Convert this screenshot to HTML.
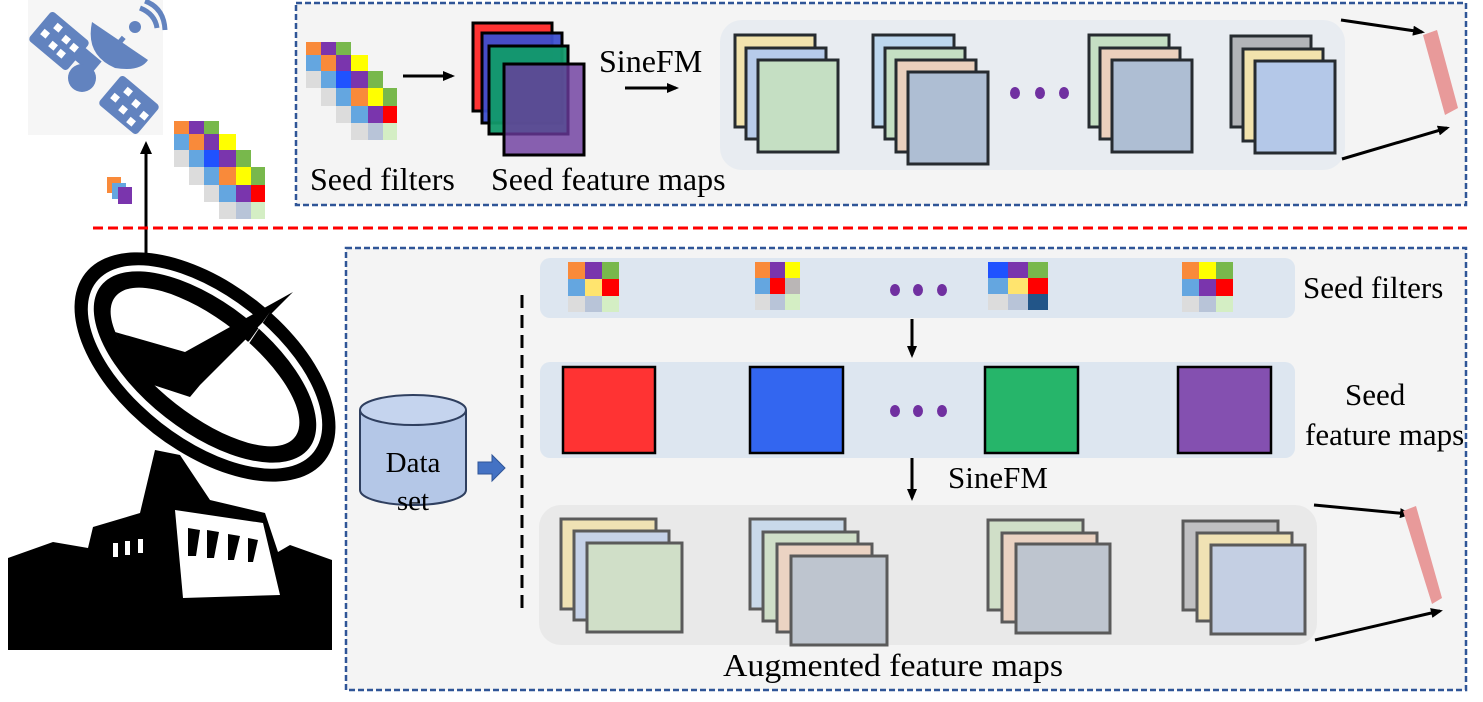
<!DOCTYPE html>
<html><head><meta charset="utf-8"><style>
html,body{margin:0;padding:0;background:#fff;}
svg{display:block;}
text{font-family:"Liberation Serif",serif;fill:#000;}
</style></head><body>
<svg width="1483" height="702" viewBox="0 0 1483 702" xmlns="http://www.w3.org/2000/svg">
<defs>
<marker id="ah" markerWidth="12" markerHeight="10" refX="9" refY="5" orient="auto" markerUnits="userSpaceOnUse">
<path d="M0,0 L12,5 L0,10 z" fill="#000"/></marker>
<g id="mosaic">
<rect x="306" y="42" width="15" height="13" fill="#f98a3a"/><rect x="321" y="42" width="15" height="13" fill="#7a35ad"/><rect x="336" y="42" width="15" height="13" fill="#78b84c"/>
<rect x="306" y="55" width="15" height="16" fill="#64a6e0"/><rect x="321" y="55" width="15" height="16" fill="#f98a3a"/><rect x="336" y="55" width="15" height="16" fill="#7a35ad"/><rect x="351" y="55" width="17" height="16" fill="#ffff00"/>
<rect x="306" y="71" width="15" height="17" fill="#dcdcdc"/><rect x="321" y="71" width="15" height="17" fill="#64a6e0"/><rect x="336" y="71" width="15" height="17" fill="#1f52ff"/><rect x="351" y="71" width="17" height="17" fill="#7a35ad"/><rect x="368" y="71" width="15" height="17" fill="#78b84c"/>
<rect x="321" y="88" width="15" height="18" fill="#dcdcdc"/><rect x="336" y="88" width="15" height="18" fill="#64a6e0"/><rect x="351" y="88" width="17" height="18" fill="#f98a3a"/><rect x="368" y="88" width="15" height="18" fill="#ffff00"/><rect x="383" y="88" width="14" height="18" fill="#78b84c"/>
<rect x="336" y="106" width="15" height="17" fill="#dcdcdc"/><rect x="351" y="106" width="17" height="17" fill="#64a6e0"/><rect x="368" y="106" width="15" height="17" fill="#7a35ad"/><rect x="383" y="106" width="14" height="17" fill="#ff0000"/>
<rect x="351" y="123" width="17" height="17" fill="#dcdcdc"/><rect x="368" y="123" width="15" height="17" fill="#b8c4d8"/><rect x="383" y="123" width="14" height="17" fill="#d4eec4"/>
</g>
</defs>

<!-- satellite -->
<rect x="28" y="0" width="135" height="135" fill="#f6f6f6"/>
<g fill="#6283bf">
<rect x="34" y="22" width="50" height="38" rx="4" transform="rotate(40 59 41)"/>
<rect x="104" y="86" width="50" height="38" rx="4" transform="rotate(40 129 105)"/>
<rect x="70" y="50" width="30" height="16" transform="rotate(40 85 58)"/>
<circle cx="82" cy="78" r="14"/>
<path d="M92,22 Q85,55 115,68 Q140,72 148,60 Z"/>
<circle cx="135" cy="27" r="6"/>
<rect x="113" y="34" width="5" height="26" transform="rotate(40 115 47)"/>
</g>
<g fill="none" stroke="#6283bf" stroke-width="5">
<path d="M140,8 Q155,14 157,28"/><path d="M145,1 Q164,8 165,30"/>
</g>
<g fill="#fff">
<rect x="42" y="30" width="7" height="7" transform="rotate(40 45 33)"/><rect x="55" y="24" width="7" height="7" transform="rotate(40 58 27)"/>
<rect x="50" y="42" width="7" height="7" transform="rotate(40 53 45)"/><rect x="63" y="36" width="7" height="7" transform="rotate(40 66 39)"/>
<rect x="58" y="50" width="7" height="7" transform="rotate(40 61 53)"/><rect x="71" y="44" width="7" height="7" transform="rotate(40 74 47)"/>
<rect x="112" y="94" width="7" height="7" transform="rotate(40 115 97)"/><rect x="125" y="88" width="7" height="7" transform="rotate(40 128 91)"/>
<rect x="120" y="106" width="7" height="7" transform="rotate(40 123 109)"/><rect x="133" y="100" width="7" height="7" transform="rotate(40 136 103)"/>
<rect x="128" y="118" width="7" height="7" transform="rotate(40 131 121)"/><rect x="141" y="112" width="7" height="7" transform="rotate(40 144 115)"/>
</g>
<use href="#mosaic" transform="translate(-132,79)"/>
<rect x="107" y="177" width="14" height="16" fill="#f98a3a"/>
<rect x="112" y="183" width="14" height="16" fill="#64a6e0"/>
<rect x="118" y="187" width="14" height="17" fill="#7a35ad"/>
<line x1="146" y1="265" x2="146" y2="152" stroke="#000" stroke-width="3"/>
<path d="M140,154 L146,141 L152,154 z" fill="#000"/>

<!-- red dashed separator -->
<line x1="93" y1="228" x2="1467" y2="228" stroke="#ff0000" stroke-width="3" stroke-dasharray="10,5"/>

<!-- antenna -->
<polygon points="8,558 53,542 88,548 93,527 140,513 155,450 180,455 210,500 265,513 278,552 290,545 332,560 332,650 8,650" fill="#000"/>
<polygon points="175,510 263,523 280,595 183,598" fill="#fff"/>
<g fill="#000">
<polygon points="188,528 200,530 196,556 188,556"/><polygon points="207,530 219,532 214,558 207,558"/>
<polygon points="228,534 240,536 234,560 228,560"/><polygon points="248,538 258,540 253,562 248,562"/>
</g>
<g fill="#fff"><rect x="113" y="543" width="5" height="14"/><rect x="125" y="541" width="5" height="14"/><rect x="138" y="539" width="5" height="14"/></g>
<g transform="rotate(38 205 367)">
<ellipse cx="205" cy="367" rx="152" ry="84" fill="#000"/>
<ellipse cx="205" cy="367" rx="138" ry="71" fill="#fff"/>
<ellipse cx="205" cy="367" rx="132" ry="64" fill="#000"/>
<ellipse cx="205" cy="367" rx="114" ry="47" fill="#fff"/>
</g>
<polygon points="115,332 185,352 293,292 200,385 190,397 138,380" fill="#000"/>
<polygon points="270,312 228,375 205,385 250,340" fill="#fff"/>

<!-- top frame -->
<rect x="296" y="3" width="1170" height="202" fill="#f4f4f4" stroke="#2f5597" stroke-width="2.5" stroke-dasharray="6,3"/>
<use href="#mosaic"/>
<line x1="403" y1="76" x2="452" y2="76" stroke="#000" stroke-width="3" marker-end="url(#ah)"/>
<g stroke="#000" stroke-width="3">
<rect x="473" y="23" width="79" height="88" fill="#ff3333"/>
<rect x="482" y="33" width="80" height="90" fill="#3d4fd0" fill-opacity="0.95"/>
<rect x="489" y="46" width="79" height="88" fill="#129a6a" fill-opacity="0.95"/>
<rect x="504" y="64" width="80" height="91" fill="#6b3a9e" fill-opacity="0.8"/>
</g>
<text x="599" y="72" font-size="32">SineFM</text>
<line x1="625" y1="88" x2="676" y2="88" stroke="#000" stroke-width="3" marker-end="url(#ah)"/>
<text x="310" y="190" font-size="32">Seed filters</text>
<text x="491" y="190" font-size="32">Seed feature maps</text>
<rect x="720" y="20" width="625" height="150" rx="22" fill="#e8ecf1"/>
<g stroke="#262b30" stroke-width="3">
<rect x="735" y="35" width="80" height="92" fill="#f2e3ad"/><rect x="746" y="48" width="80" height="91" fill="#b7cbea"/><rect x="758" y="60" width="80" height="92" fill="#c5dfc3"/>
<rect x="873" y="35" width="81" height="92" fill="#bdd7ee"/><rect x="885" y="48" width="80" height="91" fill="#c5dfc3"/><rect x="896" y="60" width="80" height="92" fill="#ebd0bd"/><rect x="908" y="72" width="80" height="92" fill="#aebed3"/>
<rect x="1089" y="35" width="80" height="92" fill="#c5dfc3"/><rect x="1100" y="48" width="80" height="91" fill="#ebd0bd"/><rect x="1112" y="60" width="80" height="92" fill="#aebed3"/>
<rect x="1231" y="36" width="80" height="91" fill="#b2b4b8"/><rect x="1243" y="49" width="80" height="92" fill="#f2e3ad"/><rect x="1255" y="61" width="80" height="92" fill="#b4c8e8"/>
</g>
<g fill="#7030a0"><ellipse cx="1015" cy="93" rx="5" ry="6"/><ellipse cx="1040" cy="93" rx="5" ry="6"/><ellipse cx="1064" cy="93" rx="5" ry="6"/></g>
<line x1="1341" y1="20" x2="1422" y2="32" stroke="#000" stroke-width="3" marker-end="url(#ah)"/>
<line x1="1342" y1="159" x2="1447" y2="128" stroke="#000" stroke-width="3" marker-end="url(#ah)"/>
<polygon points="1423,35 1437,30 1458,108 1445,115" fill="#e89a9a"/>

<!-- bottom frame -->
<rect x="346" y="248" width="1120" height="442" fill="#f4f4f4" stroke="#2f5597" stroke-width="2.5" stroke-dasharray="6,3"/>
<line x1="522" y1="295" x2="522" y2="610" stroke="#000" stroke-width="3" stroke-dasharray="13,7"/>
<!-- database -->
<path d="M360,410 L360,490 A53,15 0 0 0 466,490 L466,410" fill="#b4c7e7" stroke="#2f3f5f" stroke-width="2"/>
<ellipse cx="413" cy="410" rx="53" ry="15" fill="#c5d4ee" stroke="#2f3f5f" stroke-width="2"/>
<text x="413" y="472" font-size="29" text-anchor="middle">Data</text>
<text x="413" y="510" font-size="29" text-anchor="middle">set</text>
<polygon points="478,462 492,462 492,455 505,468 492,481 492,474 478,474" fill="#4472c4" stroke="#2f5597" stroke-width="1"/>

<rect x="540" y="258" width="755" height="60" rx="10" fill="#dde6f0"/>
<g>
<rect x="568" y="262" width="17" height="17" fill="#f98a3a"/><rect x="585" y="262" width="17" height="17" fill="#7a35ad"/><rect x="602" y="262" width="17" height="17" fill="#78b84c"/>
<rect x="568" y="279" width="17" height="17" fill="#64a6e0"/><rect x="585" y="279" width="17" height="17" fill="#ffe46e"/><rect x="602" y="279" width="17" height="17" fill="#ff0000"/>
<rect x="568" y="296" width="17" height="16" fill="#dcdcdc"/><rect x="585" y="296" width="17" height="16" fill="#b8c4d8"/><rect x="602" y="296" width="17" height="16" fill="#d4eec4"/>
<rect x="755" y="262" width="15" height="16" fill="#f98a3a"/><rect x="770" y="262" width="15" height="16" fill="#7a35ad"/><rect x="785" y="262" width="15" height="16" fill="#ffff00"/>
<rect x="755" y="278" width="15" height="16" fill="#64a6e0"/><rect x="770" y="278" width="15" height="16" fill="#ff0000"/><rect x="785" y="278" width="15" height="16" fill="#bab6b6"/>
<rect x="755" y="294" width="15" height="16" fill="#dcdcdc"/><rect x="770" y="294" width="15" height="16" fill="#b8c4d8"/><rect x="785" y="294" width="15" height="16" fill="#d4eec4"/>
<rect x="988" y="262" width="20" height="16" fill="#1f52ff"/><rect x="1008" y="262" width="20" height="16" fill="#7a35ad"/><rect x="1028" y="262" width="20" height="16" fill="#78b84c"/>
<rect x="988" y="278" width="20" height="16" fill="#64a6e0"/><rect x="1008" y="278" width="20" height="16" fill="#ffe46e"/><rect x="1028" y="278" width="20" height="16" fill="#ff0000"/>
<rect x="988" y="294" width="20" height="16" fill="#dcdcdc"/><rect x="1008" y="294" width="20" height="16" fill="#b8c4d8"/><rect x="1028" y="294" width="20" height="16" fill="#225588"/>
<rect x="1182" y="262" width="17" height="17" fill="#f98a3a"/><rect x="1199" y="262" width="17" height="17" fill="#ffff00"/><rect x="1216" y="262" width="17" height="17" fill="#78b84c"/>
<rect x="1182" y="279" width="17" height="17" fill="#64a6e0"/><rect x="1199" y="279" width="17" height="17" fill="#7a35ad"/><rect x="1216" y="279" width="17" height="17" fill="#ff0000"/>
<rect x="1182" y="296" width="17" height="16" fill="#dcdcdc"/><rect x="1199" y="296" width="17" height="16" fill="#b8c4d8"/><rect x="1216" y="296" width="17" height="16" fill="#d4eec4"/>
</g>
<g fill="#7030a0"><ellipse cx="895" cy="290" rx="5" ry="6"/><ellipse cx="918" cy="290" rx="5" ry="6"/><ellipse cx="942" cy="290" rx="5" ry="6"/></g>
<text x="1303" y="298" font-size="31">Seed filters</text>
<line x1="912" y1="319" x2="912" y2="355" stroke="#000" stroke-width="3" marker-end="url(#ah)"/>

<rect x="540" y="362" width="755" height="96" rx="10" fill="#dde6f0"/>
<g stroke="#000" stroke-width="2.5">
<rect x="563" y="367" width="92" height="86" fill="#ff3333"/>
<rect x="750" y="367" width="93" height="86" fill="#3366f0"/>
<rect x="985" y="367" width="93" height="86" fill="#26b56a"/>
<rect x="1178" y="367" width="93" height="86" fill="#8450b0"/>
</g>
<g fill="#7030a0"><ellipse cx="895" cy="411" rx="5" ry="6"/><ellipse cx="918" cy="411" rx="5" ry="6"/><ellipse cx="942" cy="411" rx="5" ry="6"/></g>
<text x="1345" y="405" font-size="31">Seed</text>
<text x="1305" y="445" font-size="31">feature maps</text>
<line x1="912" y1="458" x2="912" y2="498" stroke="#000" stroke-width="3" marker-end="url(#ah)"/>
<text x="948" y="488" font-size="31">SineFM</text>

<rect x="539" y="505" width="778" height="140" rx="22" fill="#e9e9e9"/>
<g stroke="#5a5a5a" stroke-width="3">
<rect x="561" y="519" width="95" height="90" fill="#f0e2b4"/><rect x="574" y="531" width="95" height="89" fill="#c6d2e8"/><rect x="587" y="543" width="95" height="89" fill="#d0dfc8"/>
<rect x="750" y="519" width="95" height="90" fill="#c9d9ea"/><rect x="763" y="532" width="95" height="89" fill="#d0dfc8"/><rect x="777" y="544" width="95" height="88" fill="#ebd3c3"/><rect x="791" y="556" width="96" height="89" fill="#bec5cf"/>
<rect x="988" y="520" width="95" height="90" fill="#d0dfc8"/><rect x="1002" y="533" width="95" height="89" fill="#ebd3c3"/><rect x="1016" y="544" width="94" height="89" fill="#bec5cf"/>
<rect x="1183" y="521" width="95" height="89" fill="#c0c0c2"/><rect x="1197" y="533" width="95" height="88" fill="#f0e2b4"/><rect x="1211" y="545" width="94" height="89" fill="#c4cfe3"/>
</g>
<text x="723" y="676" font-size="32" textLength="340" lengthAdjust="spacingAndGlyphs">Augmented  feature maps</text>
<line x1="1314" y1="505" x2="1409" y2="514" stroke="#000" stroke-width="3" marker-end="url(#ah)"/>
<line x1="1315" y1="640" x2="1440" y2="611" stroke="#000" stroke-width="3" marker-end="url(#ah)"/>
<polygon points="1403,511 1416,506 1442,598 1432,604" fill="#e89a9a"/>
</svg>
</body></html>
